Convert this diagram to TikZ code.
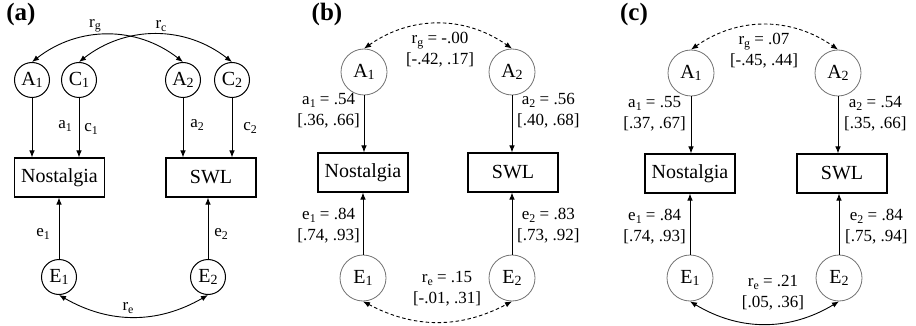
\documentclass[tikz,border=0pt]{standalone}
\usepackage{fontspec}
\setmainfont{Liberation Serif}
\newfontfamily\tnr{Liberation Serif}
\usepackage{graphicx}
\usetikzlibrary{arrows.meta}
\newcommand{\subs}[1]{\raisebox{-0.3ex}{\scalebox{0.7}{#1}}}
\tikzset{
  lbl/.style={font=\tnr\fontsize{17}{21}\selectfont, inner sep=0pt, align=center},
  var/.style={circle, draw, line width=1pt, minimum size=35pt, inner sep=0pt, font=\tnr\fontsize{20}{24}\selectfont},
  varg/.style={circle, draw=black!55, line width=0.8pt, minimum size=46pt, inner sep=0pt, font=\tnr\fontsize{20}{24}\selectfont},
  obs/.style={rectangle, draw, line width=1.1pt, minimum width=90pt, minimum height=39pt, inner sep=0pt, font=\tnr\fontsize{20}{24}\selectfont},
  arr/.style={-{Latex[length=7pt,width=5.5pt]}, line width=0.9pt},
  darr/.style={{Latex[length=7pt,width=5.5pt]}-{Latex[length=7pt,width=5.5pt]}, line width=0.9pt},
  dsh/.style={dash pattern=on 3.5pt off 2.5pt},
  panel/.style={font=\tnr\fontsize{25}{30}\selectfont\bfseries, inner sep=0pt}
}
\begin{document}
\begin{tikzpicture}[x=1pt,y=-1pt]
\useasboundingbox (0,0) rectangle (916,326);
% ---------- panel (a)
\node[panel] (pa) at (21,14) {(a)};
\node[var] (aA1) at (32,80) {A\subs{1}};
\node[var] (aC1) at (79,80) {C\subs{1}};
\node[var] (aA2) at (183,80) {A\subs{2}};
\node[var] (aC2) at (232,80) {C\subs{2}};
\node[obs] (aN) at (59.5,177.5) {Nostalgia};
\node[obs] (aS) at (211,177.5) {SWL};
\node[var] (aE1) at (59,277) {E\subs{1}};
\node[var] (aE2) at (208,277) {E\subs{2}};
\draw[arr] (aA1.south) -- (aA1.south |- aN.north);
\draw[arr] (aC1.south) -- (aC1.south |- aN.north);
\draw[arr] (aA2.south) -- (aA2.south |- aS.north);
\draw[arr] (aC2.south) -- (aC2.south |- aS.north);
\draw[arr] (aE1.north) -- (aE1.north |- aN.south);
\draw[arr] (aE2.north) -- (aE2.north |- aS.south);
\draw[darr] (aA1.north) to[bend left=38] (aA2.north);
\draw[darr] (aC1.north) to[bend left=38] (aC2.north);
\draw[darr] (aE1.south) to[bend right=30] (aE2.south);
\node[lbl] (la1) at (65,126) {a\subs{1}};
\node[lbl] (lc1) at (91,129) {c\subs{1}};
\node[lbl] (la2) at (197,125) {a\subs{2}};
\node[lbl] (lc2) at (250,128) {c\subs{2}};
\node[lbl] (le1) at (43,234) {e\subs{1}};
\node[lbl] (le2) at (221,234) {e\subs{2}};
\node[lbl] (lrg) at (95,26) {r\subs{g}};
\node[lbl] (lrc) at (161,26) {r\subs{c}};
\node[lbl] (lre) at (128,308) {r\subs{e}};
% ---------- panel (b)
\node[panel] (pb) at (327,14) {(b)};
\node[varg] (bA1) at (364,72) {A\subs{1}};
\node[varg] (bA2) at (512,72) {A\subs{2}};
\node[obs] (bN) at (363,172.5) {Nostalgia};
\node[obs] (bS) at (513,172.5) {SWL};
\node[varg] (bE1) at (363,278) {E\subs{1}};
\node[varg] (bE2) at (512,278) {E\subs{2}};
\draw[arr] (bA1.south) -- (bA1.south |- bN.north);
\draw[arr] (bA2.south) -- (bA2.south |- bS.north);
\draw[arr] (bE1.north) -- (bE1.north |- bN.south);
\draw[arr] (bE2.north) -- (bE2.north |- bS.south);
\draw[darr,dsh] (bA1.north) to[bend left=35] (bA2.north);
\draw[darr,dsh] (bE1.south) to[bend right=28] (bE2.south);
\node[lbl,anchor=east] (ba1) at (360,111) {a\subs{1} = .54\\ {[.36, .66]}};
\node[lbl,anchor=west] (ba2) at (517,111) {a\subs{2} = .56\\ {[.40, .68]}};
\node[lbl,anchor=east] (be1) at (360,226) {e\subs{1} = .84\\ {[.74, .93]}};
\node[lbl,anchor=west] (be2) at (517,226) {e\subs{2} = .83\\ {[.73, .92]}};
\node[lbl] (brg) at (440,50) {r\subs{g} = -.00\\ {[-.42, .17]}};
\node[lbl] (bre) at (447,289) {r\subs{e} = .15\\ {[-.01, .31]}};
% ---------- panel (c)
\node[panel] (pc) at (634,14) {(c)};
\node[varg] (cA1) at (691,73) {A\subs{1}};
\node[varg] (cA2) at (838,73) {A\subs{2}};
\node[obs] (cN) at (690,173.5) {Nostalgia};
\node[obs] (cS) at (842,173.5) {SWL};
\node[varg] (cE1) at (690,278) {E\subs{1}};
\node[varg] (cE2) at (839,278) {E\subs{2}};
\draw[arr] (cA1.south) -- (cA1.south |- cN.north);
\draw[arr] (cA2.south) -- (cA2.south |- cS.north);
\draw[arr] (cE1.north) -- (cE1.north |- cN.south);
\draw[arr] (cE2.north) -- (cE2.north |- cS.south);
\draw[darr,dsh] (cA1.north) to[bend left=35] (cA2.north);
\draw[darr] (cE1.south) to[bend right=31] (cE2.south);
\node[lbl,anchor=east] (ca1) at (686,114) {a\subs{1} = .55\\ {[.37, .67]}};
\node[lbl,anchor=west] (ca2) at (844,114) {a\subs{2} = .54\\ {[.35, .66]}};
\node[lbl,anchor=east] (ce1) at (686,227) {e\subs{1} = .84\\ {[.74, .93]}};
\node[lbl,anchor=west] (ce2) at (845,227) {e\subs{2} = .84\\ {[.75, .94]}};
\node[lbl] (crg) at (764,51) {r\subs{g} = .07\\ {[-.45, .44]}};
\node[lbl] (cre) at (773,293) {r\subs{e} = .21\\ {[.05, .36]}};
\end{tikzpicture}
\end{document}
